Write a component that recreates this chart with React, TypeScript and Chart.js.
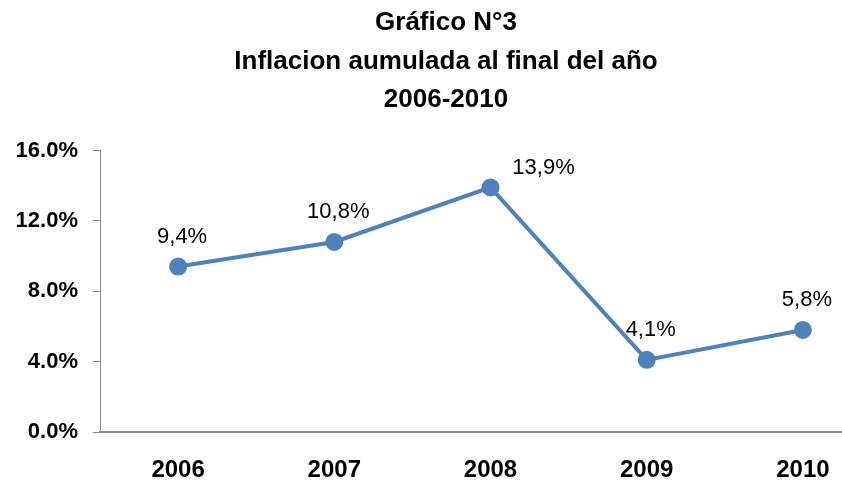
import React, { useEffect, useRef } from "react";
import { Chart, registerables } from "chart.js";

Chart.register(...registerables);

const titleLines = ["Gráfico N°3", "Inflacion aumulada al final del año", "2006-2010"];
const years = ["2006", "2007", "2008", "2009", "2010"];
const inflation = [9.4, 10.8, 13.9, 4.1, 5.8];
const yTicks = [0, 4, 8, 12, 16];

const FONT = "'Liberation Sans', Arial, sans-serif";
const BLUE = "#4F81BD";
const AXIS = "#8c8c8c";

const labelPlugin = {
  id: "pointLabels",
  afterDatasetsDraw(chart: any) {
    const ctx = chart.ctx;
    const meta = chart.getDatasetMeta(0);
    ctx.save();
    ctx.font = `22px ${FONT}`;
    ctx.fillStyle = "#000";
    ctx.textBaseline = "middle";
    ctx.textAlign = "center";
    meta.data.forEach((pt: any, i: number) => {
      const v = inflation[i];
      const txt = v.toFixed(1).replace(".", ",") + "%";
      if (i === 2) {
        ctx.fillText(txt, pt.x + 53, pt.y - 19);
      } else {
        ctx.fillText(txt, pt.x + 4, pt.y - 30);
      }
    });
    ctx.restore();
  },
};

export default function App() {
  const ref = useRef<HTMLCanvasElement>(null);
  useEffect(() => {
    if (!ref.current) return;
    const chart = new Chart(ref.current, {
      type: "line",
      data: {
        labels: years,
        datasets: [
          {
            data: inflation,
            borderColor: BLUE,
            backgroundColor: BLUE,
            borderWidth: 4,
            pointRadius: 7,
            pointHoverRadius: 7,
            pointBackgroundColor: BLUE,
            pointBorderColor: BLUE,
            tension: 0,
          },
        ],
      },
      options: {
        animation: false,
        responsive: false,
        maintainAspectRatio: false,
        layout: { padding: { top: 4, right: 0, left: 0, bottom: 0 } },
        plugins: {
          legend: { display: false },
          tooltip: { enabled: false },
          title: {
            display: true,
            text: titleLines,
            color: "#000",
            font: { family: FONT, size: 26, weight: "bold", lineHeight: 1.48 },
            padding: { top: 0, bottom: 31 },
          },
        },
        scales: {
          x: {
            type: "category",
            offset: true,
            afterFit: (s: any) => {
              s.height = 52;
            },
            grid: { display: true, drawOnChartArea: false, drawTicks: false },
            border: { display: true, color: AXIS, width: 2 },
            ticks: {
              padding: 24,
              color: "#000",
              font: { family: FONT, size: 24, weight: "bold" },
            },
          },
          y: {
            min: 0,
            max: 16,
            afterFit: (s: any) => {
              s.width = 100;
            },
            afterBuildTicks: (s: any) => {
              s.ticks = yTicks.map((v) => ({ value: v }));
            },
            grid: { drawOnChartArea: false, drawTicks: true, tickLength: 7, color: AXIS, tickColor: AXIS },
            border: { display: true, color: AXIS, width: 1 },
            ticks: {
              padding: 15,
              color: "#000",
              font: { family: FONT, size: 22, weight: "bold" },
              callback: (v: any) => Number(v).toFixed(1) + "%",
            },
          },
        },
      },
      plugins: [labelPlugin],
    });
    return () => chart.destroy();
  }, []);
  return (
    <div style={{ position: "fixed", left: 0, top: 0, width: 842, height: 484, overflow: "hidden", background: "#fff" }}>
      <canvas ref={ref} width={892} height={484} style={{ width: 892, height: 484, display: "block" }} />
    </div>
  );
}
